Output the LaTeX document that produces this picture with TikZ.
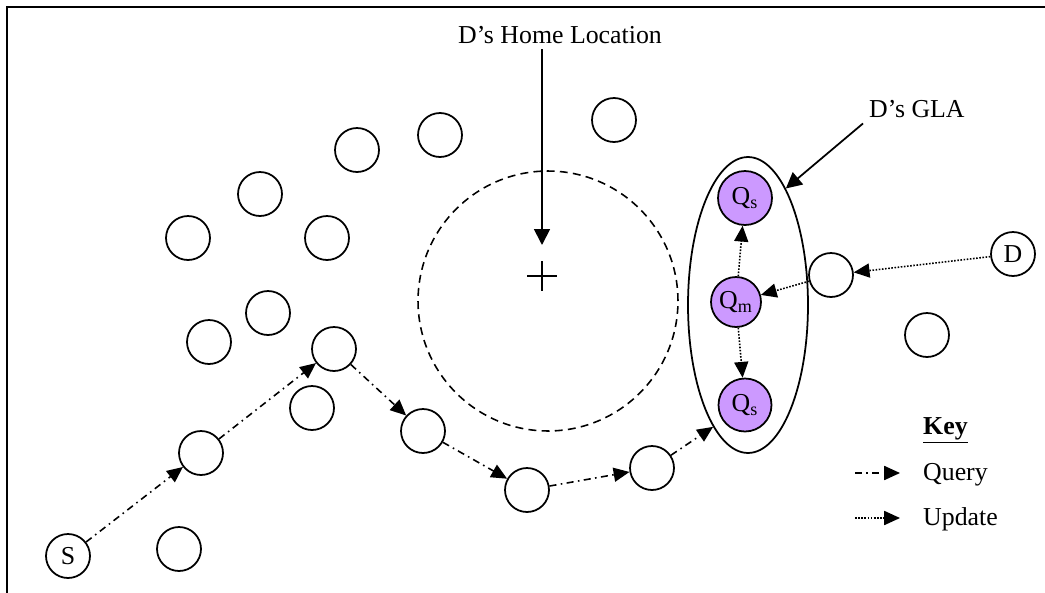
\documentclass[tikz,border=0pt]{standalone}
\usepackage{fontspec}
\setmainfont{Liberation Serif}
\usepackage{tikz}
\usetikzlibrary{arrows.meta,positioning,shapes.geometric}
\definecolor{glapurple}{RGB}{204,153,255}

\begin{document}
\begin{tikzpicture}[
  x=0.02cm, y=-0.02cm,
  every node/.style={font=\fontsize{14.7}{17}\selectfont, align=center},
  peer/.style={draw, circle, line width=1pt, minimum size=0.88cm, inner sep=0pt},
  agent/.style={peer, fill=glapurple},
  query/.style={-{Triangle[length=9pt,width=8pt]}, line width=0.9pt, dash pattern=on 4pt off 2.5pt on 0.9pt off 2.5pt},
  update/.style={-{Triangle[length=9pt,width=8pt]}, line width=0.9pt, dash pattern=on 0.9pt off 0.9pt},
  pointer/.style={-{Triangle[length=9pt,width=9pt]}, line width=1pt}
]
  \useasboundingbox (0,0) rectangle (1045,592);
  \draw [line width=1.1pt] (7,600) -- (7,7) -- (1052,7);

  % Home area
  \node (homearea) [draw, circle, dashed, dash pattern=on 4.5pt off 3pt, line width=0.9pt, minimum size=5.2cm] at (548,301) {};
  \coordinate (home) at (542,276);
  \coordinate (hometip) at (542,245);
  \draw [line width=0.9pt] (home) +(-15,0) -- +(15,0) (home) +(0,-15) -- +(0,15);
  \node (homelbl) [anchor=base] at (560,43) {D’s Home Location};

  % GLA
  \node (gla) [draw, ellipse, line width=1pt, minimum width=2.4cm, minimum height=5.92cm, inner sep=0pt] at (748,305) {};
  \node (qstop) [agent, minimum size=1.08cm] at (745,198) {Q\textsubscript{s}};
  \node (qm) [agent, minimum size=1.0cm] at (736,302) {Q\textsubscript{m}};
  \node (qsbot) [agent, minimum size=1.06cm] at (745,405) {Q\textsubscript{s}};
  \node (glalbl) [anchor=base west] at (863,117) {D’s GLA};

  % Other nodes
  \node (pa) [peer] at (188,238) {};
  \node (pb) [peer] at (260,194) {};
  \node (pc) [peer] at (327,238) {};
  \node (pd) [peer] at (357,150) {};
  \node (pe) [peer] at (440,135) {};
  \node (pf) [peer] at (614,120) {};
  \node (pg) [peer] at (209,342) {};
  \node (ph) [peer] at (268,313) {};
  \node (pi) [peer] at (312,408) {};
  \node (pj) [peer] at (179,549) {};
  \node (pk) [peer] at (927,335) {};

  % Query route
  \node (src) [peer] at (68,556) {S};
  \node (hopa) [peer] at (201,453) {};
  \node (hopb) [peer] at (334,349) {};
  \node (hopc) [peer] at (423,431) {};
  \node (hopd) [peer] at (527,490) {};
  \node (hope) [peer] at (652,468) {};

  % Update route
  \node (dest) [peer] at (1013,254) {D};
  \node (relay) [peer] at (831,275) {};

  % Key
  \node (keylbl) [anchor=base west] at (917,434) {\underline{\textbf{Key}}};
  \node (querylbl) [anchor=base west] at (917,480) {Query};
  \node (updatelbl) [anchor=base west] at (917,525) {Update};
  \coordinate (qfrom) at (855,473);
  \coordinate (qto) at (900,473);
  \coordinate (ufrom) at (855,518);
  \coordinate (uto) at (900,518);

  % Paths
  \draw [pointer] (homelbl.south -| home) -- (hometip);
  \draw [pointer] (glalbl.south west) -- (gla.72);
  \draw [query] (src) -- (hopa);
  \draw [query] (hopa) -- (hopb);
  \draw [query] (hopb) -- (hopc);
  \draw [query] (hopc) -- (hopd);
  \draw [query] (hopd) -- (hope);
  \draw [query] (hope) -- (gla.254);
  \draw [update] (dest) -- (relay);
  \draw [update] (relay) -- (qm);
  \draw [update] (qm) -- (qstop);
  \draw [update] (qm) -- (qsbot);
  \draw [query] (qfrom) -- (qto);
  \draw [update] (ufrom) -- (uto);
\end{tikzpicture}
\end{document}
